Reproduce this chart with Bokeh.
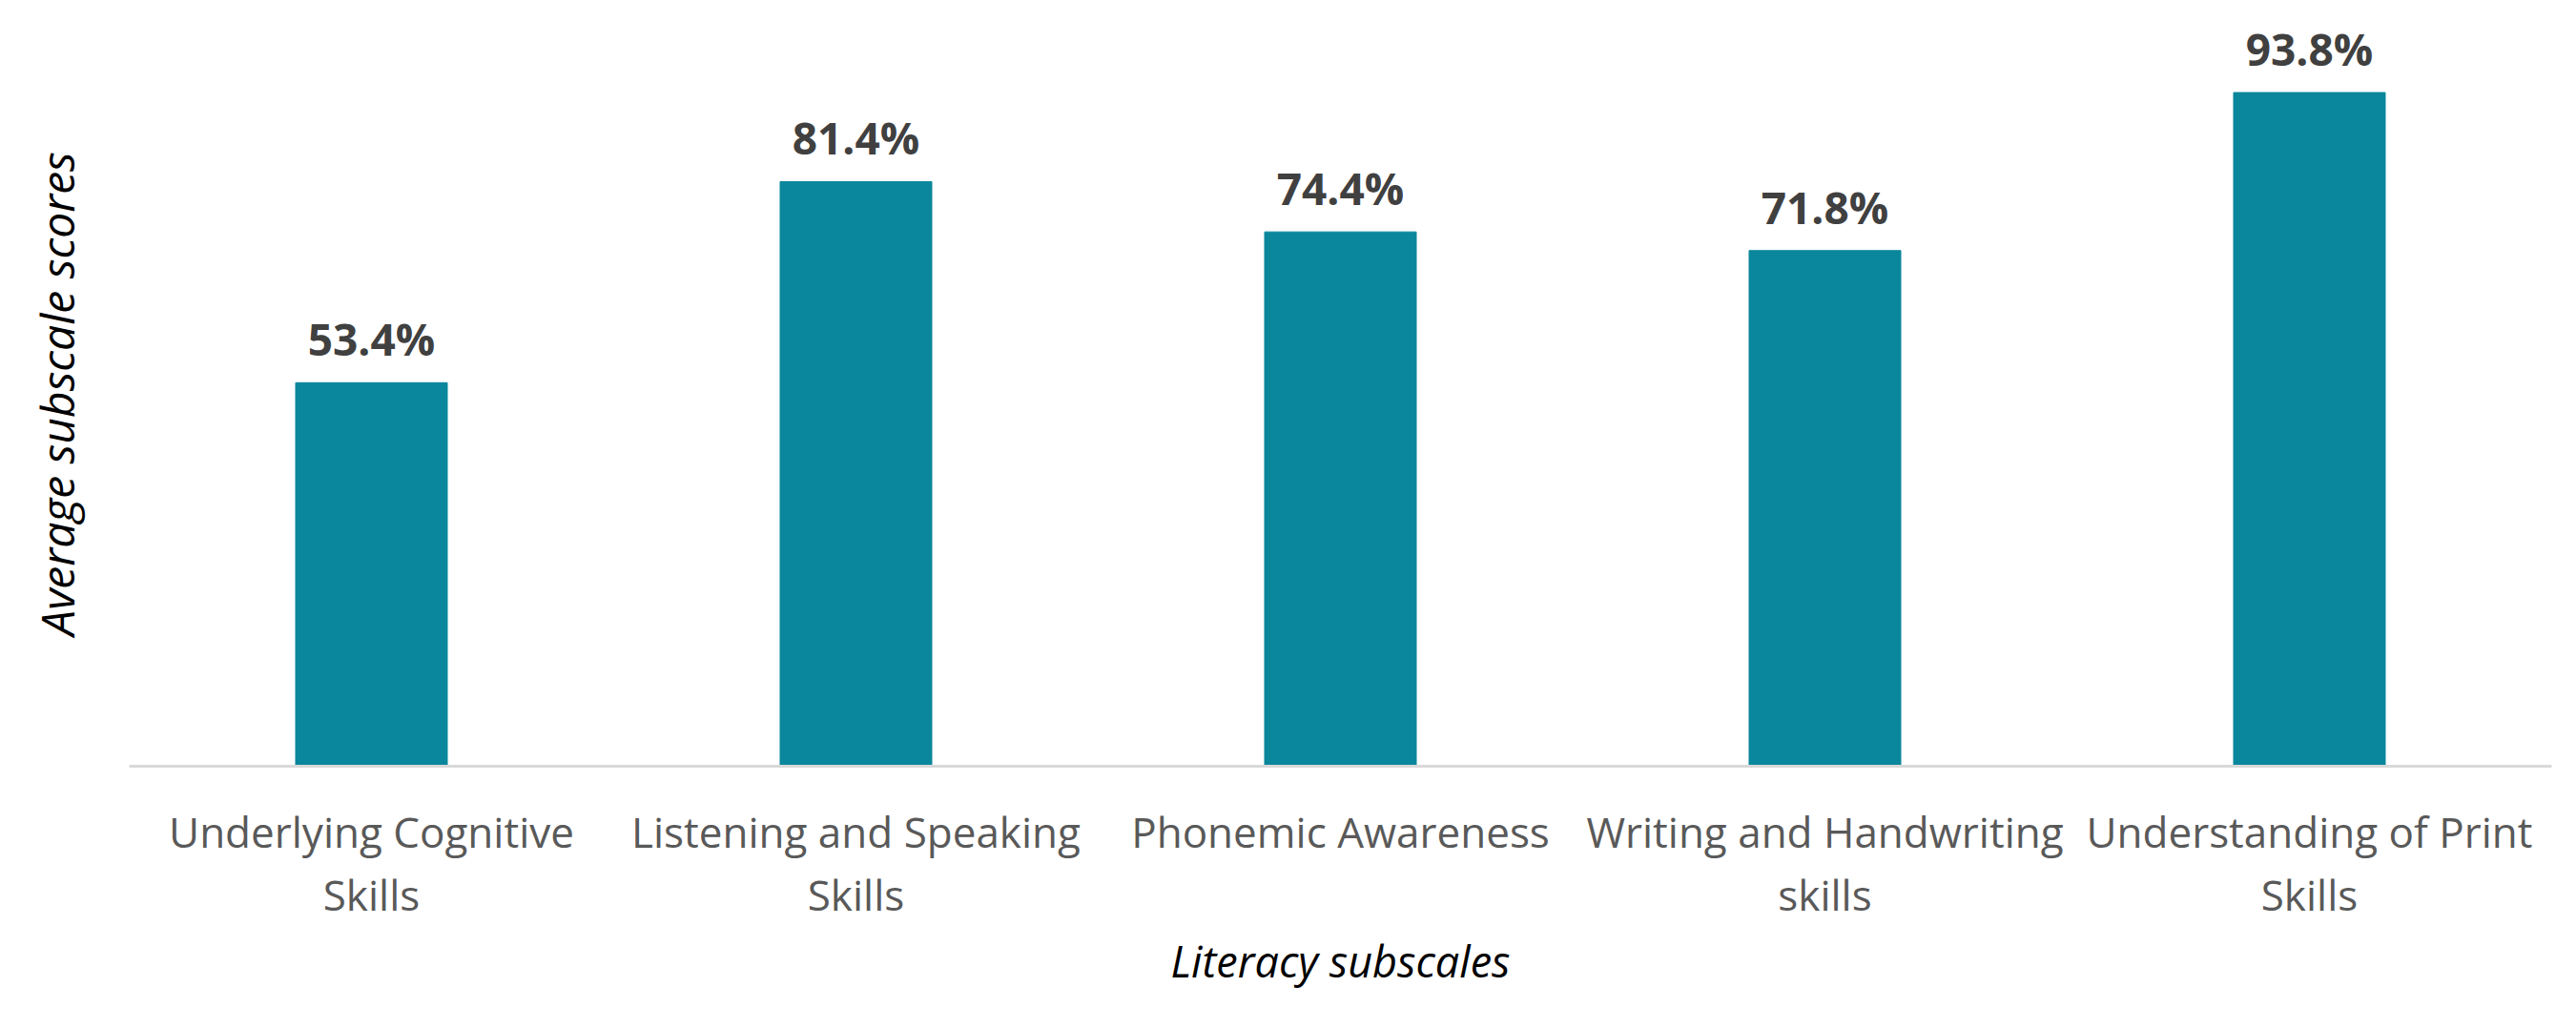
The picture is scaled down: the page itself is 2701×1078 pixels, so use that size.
from bokeh.plotting import figure
from bokeh.models import FactorRange, Range1d, FixedTicker, ColumnDataSource
from bokeh.core.properties import value
from bokeh.embed import file_html
from bokeh.resources import INLINE

categories = ["Underlying Cognitive\nSkills", "Listening and Speaking\nSkills",
              "Phonemic Awareness", "Writing and Handwriting\nskills",
              "Understanding of Print\nSkills"]
scores = [53.4, 81.4, 74.4, 71.8, 93.8]
score_labels = [f"{v:.1f}%" for v in scores]

FONT = "Open Sans"
src = ColumnDataSource(dict(cat=categories, val=scores, lab=score_labels))

p = figure(x_range=FactorRange(*categories, range_padding=0),
           y_range=Range1d(0, 103.7),
           width=2690, height=1070, output_backend="svg", toolbar_location=None,
           min_border_left=135, min_border_right=15, min_border_top=22,
           min_border_bottom=267)
p.outline_line_color = None
p.grid.visible = False
p.background_fill_color = "white"
p.border_fill_color = "white"

p.vbar(x="cat", top="val", width=0.313, source=src, color="#0A879C")
p.text(x="cat", y="val", text="lab", source=src, text_align="center",
       text_baseline="alphabetic", y_offset=-46, text_font=value(FONT),
       text_font_style="bold", text_font_size="46px", text_color="#404040")

xa = p.xaxis[0]
xa.axis_line_color = "#D9D9D9"
xa.axis_line_width = 3
xa.major_tick_line_color = None
xa.major_tick_out = 0
xa.major_tick_in = 0
xa.minor_tick_line_color = None
xa.major_label_standoff = 38
xa.major_label_text_font = FONT
xa.major_label_text_font_size = "44px"
xa.major_label_text_color = "#595959"
xa.major_label_text_line_height = 1.1
xa.axis_label = "Literacy subscales"
xa.axis_label_text_font = FONT
xa.axis_label_text_font_size = "45px"
xa.axis_label_text_font_style = "italic"
xa.axis_label_text_color = "#000000"
xa.axis_label_standoff = 6

ya = p.yaxis[0]
ya.ticker = FixedTicker(ticks=[])
ya.axis_line_color = None
ya.major_tick_line_color = None
ya.minor_tick_line_color = None
ya.major_label_text_font_size = "0px"
ya.axis_label = "Average subscale scores"
ya.axis_label_text_font = FONT
ya.axis_label_text_font_size = "48px"
ya.axis_label_text_font_style = "italic"
ya.axis_label_text_color = "#000000"
ya.axis_label_standoff = 44

open("out.html", "w").write(file_html(p, INLINE))
